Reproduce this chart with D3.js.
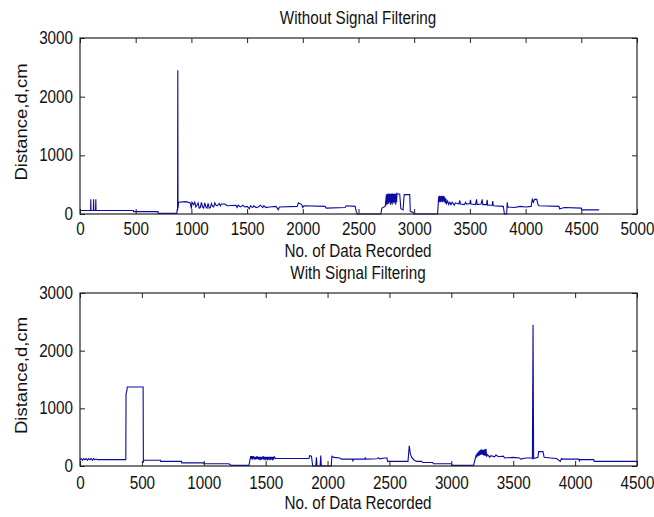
<!DOCTYPE html>
<html><head><meta charset="utf-8">
<script src="https://cdn.jsdelivr.net/npm/d3@7"></script>
<style>
html,body{margin:0;padding:0;background:#fff;}
svg text{font-family:"Liberation Sans",Arial,sans-serif;fill:#111;}
</style></head>
<body>
<svg id="chart" width="654" height="517"></svg>
<script>
// ---------- data ----------
const topTitle = "Without Signal Filtering";
const bottomTitle = "With Signal Filtering";
const xLabel = "No. of Data Recorded";
const yLabel = "Distance,d,cm";
const topXTicks = [0,500,1000,1500,2000,2500,3000,3500,4000,4500,5000];
const bottomXTicks = [0,500,1000,1500,2000,2500,3000,3500,4000,4500];
const yTicks = [0,1000,2000,3000];

// [sample index, distance]
const topSeries = [
[0,60],[95,60],[97,250],[99,60],[120,60],[122,250],[124,60],[140,60],[142,250],[144,60],
[480,60],[482,40],[700,40],[702,10],[870,10],[872,80],[876,60],[878,2450],[880,100],
[885,200],[950,210],[990,190],[1000,90],[1005,200],[1020,160],[1030,200],[1040,120],[1050,150],
[1060,190],[1070,100],[1080,110],[1090,200],[1100,120],[1110,100],[1120,190],[1130,120],[1140,100],
[1150,180],[1160,100],[1170,110],[1180,180],[1190,130],[1200,120],[1210,190],[1220,150],
[1230,140],[1250,180],[1260,140],[1270,170],[1300,170],[1320,140],[1400,150],[1410,110],[1420,150],
[1440,120],[1450,130],[1460,150],[1480,120],[1500,130],[1520,90],[1530,140],[1550,110],[1560,140],
[1580,110],[1600,120],[1620,150],[1640,110],[1650,140],[1670,110],[1700,120],[1760,130],[1780,70],
[1790,120],[1950,130],[1960,190],[1990,160],[2000,110],[2010,140],[2200,130],[2210,100],[2380,110],
[2390,140],[2470,130],[2480,40],[2490,0],[2700,0],[2710,100],[2740,130],[2750,330],[2754,150],
[2758,340],[2762,170],[2766,350],[2770,180],[2774,340],[2778,200],[2782,350],[2786,160],[2790,340],
[2794,190],[2798,350],[2802,160],[2806,350],[2810,200],[2814,340],[2818,180],[2822,350],[2826,200],
[2830,340],[2834,160],[2838,350],[2842,200],[2846,350],[2850,340],[2870,340],[2880,90],[2900,70],
[2910,330],[2960,330],[2965,40],[2990,30],[3000,0],[3210,0],[3220,300],[3224,200],[3228,310],
[3232,210],[3236,300],[3240,200],[3244,310],[3248,220],[3252,300],[3256,200],[3260,310],[3264,220],
[3268,300],[3272,200],[3276,280],[3280,180],[3285,260],[3290,180],[3300,220],[3310,160],[3320,200],
[3330,160],[3340,200],[3350,180],[3360,150],[3370,190],[3400,170],[3410,230],[3415,170],[3450,160],
[3460,200],[3470,170],[3500,180],[3505,240],[3510,170],[3550,160],[3560,250],[3565,160],[3600,170],
[3610,250],[3615,160],[3650,160],[3655,240],[3660,150],[3700,150],[3705,220],[3710,140],[3800,130],
[3810,0],[3830,0],[3835,200],[3840,120],[3900,110],[3950,130],[4000,120],[4050,130],[4060,250],
[4070,200],[4080,250],[4100,250],[4110,170],[4120,140],[4300,130],[4305,90],[4350,110],[4500,100],
[4505,70],[4660,70]
];

const bottomSeries = [
[0,110],[10,130],[20,100],[30,130],[40,110],[50,130],[60,100],[70,130],[80,110],[90,130],
[100,100],[110,130],[120,110],[130,120],[140,110],[370,110],[372,1250],[378,1300],[382,1370],
[510,1370],[512,60],[515,100],[650,100],[652,80],[820,80],[822,55],[1000,55],[1002,40],
[1200,40],[1210,30],[1220,10],[1365,10],[1375,130],[1380,170],[1385,120],[1390,170],[1395,130],
[1400,170],[1405,120],[1410,160],[1415,110],[1420,160],[1425,120],[1430,170],[1435,120],[1440,160],
[1445,110],[1450,160],[1455,120],[1460,160],[1465,110],[1470,160],[1475,120],[1480,170],[1485,110],
[1490,160],[1495,120],[1500,160],[1505,110],[1510,160],[1515,120],[1520,160],[1525,110],[1530,160],
[1535,120],[1540,160],[1545,110],[1550,160],[1555,120],[1560,160],[1565,110],[1570,160],[1580,130],
[1600,130],[1850,130],[1855,180],[1870,170],[1880,0],[1905,0],[1910,150],[1915,0],[1940,0],
[1945,180],[1950,0],[2030,0],[2035,170],[2050,150],[2100,140],[2110,120],[2200,120],[2205,90],
[2210,120],[2300,120],[2305,140],[2310,120],[2400,125],[2410,145],[2420,125],[2460,140],[2480,140],
[2485,80],[2650,80],[2660,350],[2670,200],[2680,150],[2700,100],[2720,80],[2760,80],[2770,60],
[2850,60],[2855,40],[3000,40],[3005,10],[3180,10],[3190,100],[3200,180],[3205,150],[3210,230],
[3215,170],[3220,250],[3225,180],[3230,270],[3235,190],[3240,290],[3245,200],[3250,280],[3255,190],
[3260,280],[3265,180],[3270,290],[3275,180],[3280,300],[3285,160],[3290,200],[3300,180],[3310,150],
[3320,180],[3350,160],[3360,190],[3380,160],[3420,170],[3430,140],[3500,150],[3550,140],[3560,120],
[3600,140],[3650,140],[3655,130],[3660,2450],[3665,130],[3700,150],[3705,250],[3740,250],[3745,200],
[3750,150],[3800,140],[3850,130],[3880,80],[3890,130],[3900,120],[4030,120],[4035,90],[4040,110],
[4150,110],[4155,80],[4500,80]
];

// ---------- drawing ----------
const svg = d3.select("#chart");
const lineColor = "#0b0ba0";
const frameColor = "#222";
const FS = 17.5, SX = 0.87;

function panel(cfg){
  const x = d3.scaleLinear().domain(cfg.xDomain).range([80, 637]);
  const y = d3.scaleLinear().domain([0, 3000]).range([cfg.bottom, cfg.top]);
  const g = svg.append("g");
  const tl = 5;
  const line = d3.line().x(d => x(d[0])).y(d => y(d[1]));
  g.append("path").datum(cfg.data).attr("d", line)
    .attr("fill","none").attr("stroke", lineColor).attr("stroke-width", 1.1);
  const ax = (axis, tr) => g.append("g").attr("transform", tr).call(axis)
    .call(s => s.select(".domain").remove());
  const fmt = d3.format("d");
  const bx = ax(d3.axisBottom(x).tickValues(cfg.xTicks).tickSizeInner(-tl).tickSizeOuter(0).tickPadding(cfg.xPad).tickFormat(fmt), `translate(0,${cfg.bottom})`);
  const tx = ax(d3.axisTop(x).tickValues(cfg.xTicks).tickSizeInner(-tl).tickSizeOuter(0).tickFormat(""), `translate(0,${cfg.top})`);
  const ly = ax(d3.axisLeft(y).tickValues(yTicks).tickSizeInner(-tl).tickSizeOuter(0).tickFormat(fmt), `translate(80,0)`);
  const ry = ax(d3.axisRight(y).tickValues(yTicks).tickSizeInner(-tl).tickSizeOuter(0).tickFormat(""), `translate(637,0)`);
  [bx,tx,ly,ry].forEach(s => s.selectAll("line").attr("stroke", frameColor));
  [bx,ly].forEach(s => s.selectAll("text").attr("font-size", FS+"px").attr("fill","#111")
     .attr("font-family",'"Liberation Sans",Arial,sans-serif'));
  bx.selectAll("text").attr("transform", `scale(${SX},1)`);
  ly.selectAll("text").attr("x", -7/SX).attr("transform", `scale(${SX},1)`);
  g.append("rect").attr("x",80).attr("y",cfg.top).attr("width",557).attr("height",cfg.bottom-cfg.top)
    .attr("fill","none").attr("stroke",frameColor).attr("stroke-width",1.2);
  g.append("text").attr("transform",`translate(358,${cfg.top-14}) scale(${SX},1)`).attr("text-anchor","middle")
    .attr("font-size",FS+"px").text(cfg.title);
  g.append("text").attr("transform",`translate(358,${cfg.bottom+43}) scale(${SX},1)`).attr("text-anchor","middle")
    .attr("font-size",FS+"px").text(xLabel);
  g.append("text").attr("transform",`translate(27,${(cfg.top+cfg.bottom)/2 - 4}) rotate(-90) scale(1,${SX})`)
    .attr("text-anchor","middle").attr("font-size","18.5px").text(yLabel);
}

panel({title: topTitle, data: topSeries, xDomain:[0,5000], xTicks: topXTicks, top:38, bottom:214, xPad:9});
panel({title: bottomTitle, data: bottomSeries, xDomain:[0,4500], xTicks: bottomXTicks, top:293, bottom:466, xPad:11});
</script>
</body></html>
